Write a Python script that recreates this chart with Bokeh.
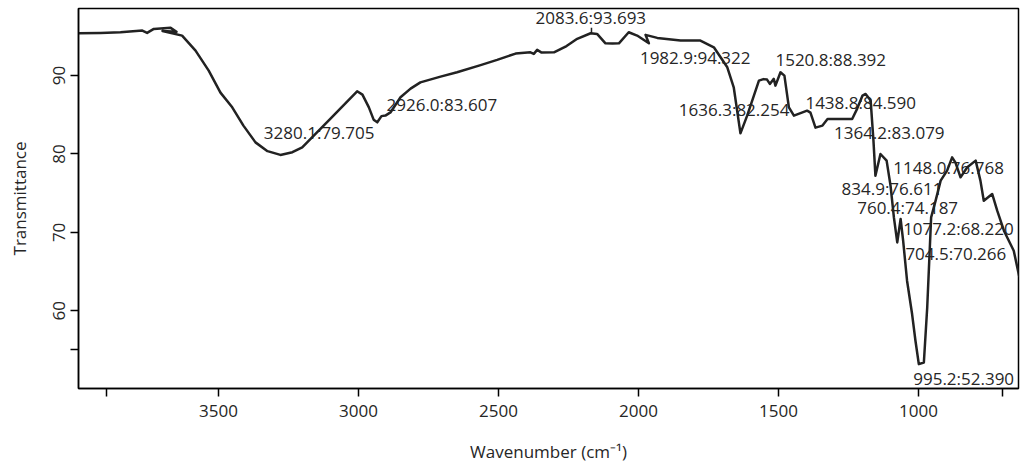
from bokeh.plotting import figure
from bokeh.models import Range1d, FixedTicker, ColumnDataSource
from bokeh.core.properties import value
from bokeh.embed import file_html
from bokeh.resources import INLINE

# Spectrum (wavenumber cm-1, transmittance %), in plotting order
wavenumber = [3999, 3921, 3850, 3772, 3755, 3731, 3671, 3650, 3700, 3630, 3582, 3535, 3493,
              3451, 3411, 3368, 3325, 3279, 3236, 3201, 3100, 3005, 2986, 2963, 2946, 2933,
              2918, 2904, 2886, 2850, 2814, 2779, 2707, 2648, 2564, 2505, 2439, 2386, 2374,
              2362, 2346, 2302, 2257, 2219, 2171, 2148, 2118, 2093, 2070, 2035, 2005, 1963,
              1975, 1933, 1850, 1779, 1731, 1683, 1660, 1636, 1612, 1570, 1554, 1541, 1531,
              1517, 1511, 1493, 1479, 1463, 1445, 1398, 1386, 1368, 1343, 1325, 1237, 1219,
              1200, 1189, 1171, 1161, 1154, 1136, 1114, 1100, 1088, 1076, 1064, 1055, 1041,
              1023, 1011, 999, 981, 969, 955, 939, 921, 898, 880, 868, 850, 826, 796, 779,
              767, 737, 719, 695, 660, 640]
transmittance = [95.40, 95.45, 95.53, 95.74, 95.45, 95.96, 96.09, 95.60, 95.70, 95.10, 93.19,
                 90.64, 87.83, 85.95, 83.62, 81.48, 80.36, 79.88, 80.23, 80.85, 84.51, 88.00,
                 87.57, 85.95, 84.38, 84.04, 84.83, 84.90, 85.30, 87.23, 88.34, 89.14, 89.87,
                 90.42, 91.34, 92.00, 92.81, 92.97, 92.77, 93.28, 92.94, 92.97, 93.77, 94.69,
                 95.40, 95.32, 94.12, 94.09, 94.12, 95.53, 95.11, 94.12, 95.20, 94.81, 94.47,
                 94.47, 93.61, 91.06, 88.51, 82.63, 84.89, 89.36, 89.55, 89.49, 88.94, 89.58,
                 88.72, 90.42, 90.00, 85.95, 84.89, 85.53, 85.28, 83.36, 83.62, 84.45, 84.47,
                 85.79, 87.45, 87.66, 86.81, 81.70, 77.23, 80.00, 79.15, 75.96, 71.91, 68.72,
                 71.71, 68.94, 63.83, 59.58, 56.17, 53.19, 53.40, 60.42, 71.91, 74.04, 76.60,
                 77.87, 79.57, 78.90, 77.02, 78.30, 79.15, 76.60, 74.04, 74.90, 72.77, 70.21,
                 67.66, 64.30]

# Peak annotations: text and where it sits on the chart
peak_labels = ["3280.1:79.705", "2926.0:83.607", "2083.6:93.693", "1982.9:94.322",
               "1520.8:88.392", "1636.3:82.254", "1438.8:84.590", "1364.2:83.079",
               "1148.0:76.768", "834.9:76.611", "760.4:74.187", "1077.2:68.220",
               "704.5:70.266", "995.2:52.390"]
label_wn = [3338, 2900, 2368, 1995, 1511, 1856, 1404, 1302, 1090, 1275, 1219, 1055, 1047, 1019]
label_T = [82.76, 86.26, 97.36, 92.26, 92.04, 85.66, 86.60, 82.76, 78.22, 75.54, 73.19, 70.50,
           67.30, 51.40]

# small peak marker
marker_wn = [2168, 2168]
marker_T = [95.3, 96.1]

x_ticks = [3900, 3500, 3000, 2500, 2000, 1500, 1000, 700]
x_tick_labels = {3900: "", 700: ""}
y_ticks = [55, 60, 70, 80, 90]
y_tick_labels = {55: ""}

FONT = "Open Sans"
TXT = "#262626"

p = figure(width=1023, height=470, output_backend="svg", toolbar_location=None,
           x_range=Range1d(4000, 643), y_range=Range1d(50.08, 98.56),
           min_border_left=78, min_border_right=5, min_border_top=8, min_border_bottom=82)
p.grid.visible = False
p.background_fill_color = "white"
p.border_fill_color = "white"
p.outline_line_color = "black"
p.outline_line_width = 1.5
p.outline_line_alpha = 1.0

for ax in (p.xaxis[0], p.yaxis[0]):
    ax.axis_line_color = "black"
    ax.axis_line_width = 1.5
    ax.major_tick_line_color = "black"
    ax.major_tick_line_width = 1.5
    ax.major_tick_out = 8
    ax.major_tick_in = 0
    ax.minor_tick_line_color = None
    ax.major_label_text_font = FONT
    ax.major_label_text_font_size = "17px"
    ax.major_label_text_color = TXT
    ax.axis_label_text_font = FONT
    ax.axis_label_text_font_size = "17px"
    ax.axis_label_text_font_style = "normal"
    ax.axis_label_text_color = TXT

p.xaxis[0].ticker = FixedTicker(ticks=x_ticks)
p.xaxis[0].major_label_overrides = x_tick_labels
p.yaxis[0].ticker = FixedTicker(ticks=y_ticks)
p.yaxis[0].major_label_overrides = y_tick_labels
p.yaxis[0].major_label_orientation = "vertical"
p.xaxis[0].major_label_standoff = 8
p.yaxis[0].major_label_standoff = 5
p.xaxis[0].axis_label = "Wavenumber (cm\u207b\u00b9)"
p.yaxis[0].axis_label = "Transmittance"
p.xaxis[0].axis_label_standoff = 20
p.yaxis[0].axis_label_standoff = 20

lab_src = ColumnDataSource(dict(x=label_wn, y=label_T, t=peak_labels))
p.text(x="x", y="y", text="t", source=lab_src, text_font=value(FONT),
       text_font_size="17px", text_color=TXT, text_align="left",
       text_baseline="middle")

p.line(marker_wn, marker_T, line_color="#222222", line_width=1.5)
p.line(wavenumber, transmittance, line_color="#222222", line_width=2.5,
       line_join="round")

open("out.html", "w").write(file_html(p, INLINE))
